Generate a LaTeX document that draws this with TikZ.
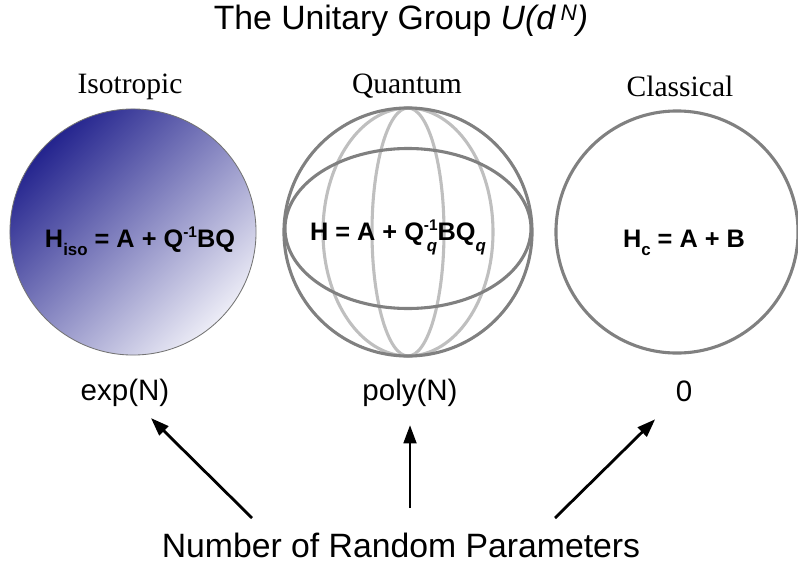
\documentclass[tikz,border=0pt]{standalone}
\usepackage{fontspec}
\setmainfont{Liberation Sans}
\newfontfamily\labelserif{Liberation Serif}
\usetikzlibrary{arrows.meta}

\newcommand{\lowsc}[2][-6pt]{\raisebox{#1}{\fontsize{12}{12}\selectfont #2}}
\newcommand{\highsc}[1]{\raisebox{6.5pt}{\fontsize{11}{11}\selectfont #1}}

\begin{document}
\begin{tikzpicture}[
  x=0.025cm, y=-0.025cm,
  ball/.style={circle, draw=black!50, line width=2.2pt, minimum size=6.15cm, inner sep=0pt},
  ring/.style={draw=black!25, line width=2.2pt},
  eqn/.style={anchor=base, inner sep=0pt, font=\fontsize{18}{20}\selectfont\bfseries},
  kind/.style={anchor=base, inner sep=0pt, font=\labelserif\fontsize{21}{24}\selectfont},
  count/.style={anchor=base, inner sep=0pt, font=\fontsize{21}{24}\selectfont},
  arr/.style={line width=2pt, -{Triangle[length=13pt, width=9pt]}}
]
\useasboundingbox (0,0) rectangle (798,573);

\node[anchor=base, font=\fontsize{24}{27}\selectfont] (title) at (401,29) {The Unitary Group \textit{U(d\,\raisebox{6pt}{\fontsize{16}{16}\selectfont N})}};

% labels above the spheres
\node[kind] (isolab) at (130,93) {Isotropic};
\node[kind] (qlab) at (407,93) {Quantum};
\node[kind] (clab) at (680,96) {Classical};

% isotropic
\node[ball, draw=black!55, line width=0.6pt, shade, top color={rgb,255:red,36;green,36;blue,142},
  bottom color={rgb,255:red,236;green,236;blue,246}, shading angle=45] (iso) at (133,232) {};

% quantum
\coordinate (qc) at (408,232);
\draw[ring] (qc) ellipse [x radius=85, y radius=124];
\draw[ring] (qc) ellipse [x radius=36, y radius=124];
\node[ball, minimum size=6.2cm] (qu) at (qc) {};
\draw[ring, draw=black!50] (408,228.5) ellipse [x radius=123, y radius=80];

% classical
\node[ball, minimum size=6.05cm] (cl) at (677,232) {};

\node[eqn] (isoeq) at (140,247) {H\lowsc{iso} = A + Q\highsc{-1}BQ};
\node[eqn] (queq) at (398,240) {H = A + Q\rlap{\lowsc[-8.5pt]{\hspace{2pt}\itshape q}}\highsc{-1}BQ\lowsc[-8.5pt]{\itshape q}};
\node[eqn] (cleq) at (684,247) {H\lowsc{c} = A + B};

% counts
\node[count, outer ysep=8.5pt] (expn) at (125,400) {exp(N)};
\node[count, outer ysep=13.5pt] (polyn) at (410,400) {poly(N)};
\node[count, outer ysep=12.8pt, outer xsep=20pt] (zero) at (684,401) {0};

\node[anchor=base, font=\fontsize{24}{28}\selectfont] (params) at (401,557) {Number of Random Parameters};

\coordinate (t1) at (252,518);
\coordinate (t2) at (410,508);
\coordinate (t3) at (555,518);
\draw[arr] (t1) -- (expn);
\draw[arr] (t2) -- (polyn);
\draw[arr] (t3) -- (zero);
\end{tikzpicture}
\end{document}
